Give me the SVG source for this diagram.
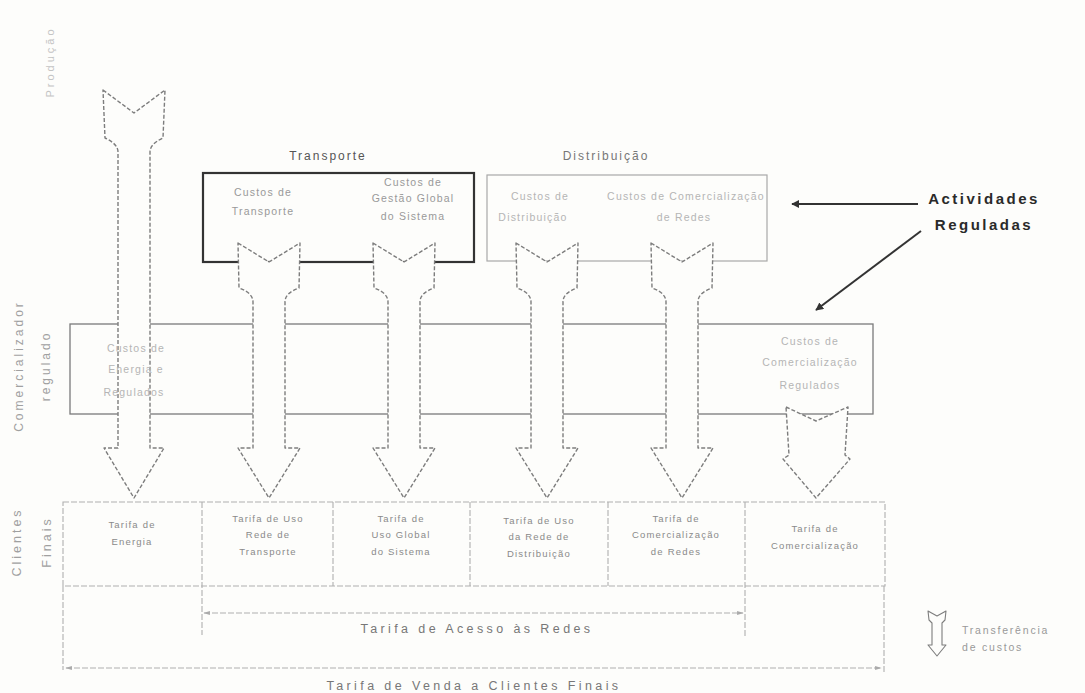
<svg xmlns="http://www.w3.org/2000/svg" width="1085" height="693" viewBox="0 0 1085 693">
<defs>
<style>
.bg{fill:#fdfdfb}
.box{fill:none;stroke:#7a7a7a;stroke-width:1.3}
.lbox{fill:none;stroke:#a8a8a8;stroke-width:1.2}
.tbox{fill:none;stroke:#333;stroke-width:2.2}
.arr{fill:#fdfdfb;stroke:#7d7d7d;stroke-width:1.4;stroke-dasharray:4 2;stroke-linejoin:round}
.tbl{fill:none;stroke:#b0b0b0;stroke-width:1.1;stroke-dasharray:6 2}
.t{font-family:"Liberation Sans",Arial,sans-serif}
.title{font-size:12px;fill:#555;letter-spacing:2px}
.cell{font-size:9.5px;fill:#8a8a8a;letter-spacing:1.2px;text-anchor:middle}
.pale{font-size:10.5px;fill:#b5b5b5;letter-spacing:1.2px;text-anchor:middle}
.mid{font-size:10.5px;fill:#999;letter-spacing:1.2px;text-anchor:middle}
.side{font-size:12px;fill:#a0a0a0;letter-spacing:3px;text-anchor:middle}
.big{font-size:12.5px;fill:#777;letter-spacing:3.4px;text-anchor:middle}
.act{font-size:15px;font-weight:bold;fill:#2a2a2a;letter-spacing:2.5px;text-anchor:middle}
.bl{stroke:#333;stroke-width:2;fill:none}
</style>
<marker id="ah" viewBox="0 0 10 10" refX="9" refY="5" markerWidth="4" markerHeight="4" orient="auto-start-reverse">
<path d="M0,0 L10,5 L0,10 Z" fill="#333"/>
</marker>
<marker id="sh" viewBox="0 0 10 10" refX="9" refY="5" markerWidth="6" markerHeight="6" orient="auto-start-reverse">
<path d="M0,2 L10,5 L0,8 Z" fill="#aaa"/>
</marker>
</defs>
<rect class="bg" x="0" y="0" width="1085" height="693"/>

<g id="label-producao"><text class="t side" transform="translate(54,62) rotate(-90)" style="fill:#c4c4c4;font-size:11px">Produção</text></g>
<g id="label-comercializador"><text class="t side" transform="translate(23,366) rotate(-90)">Comercializador</text><text class="t side" transform="translate(50,366) rotate(-90)">regulado</text></g>
<g id="label-clientes"><text class="t side" transform="translate(21,542) rotate(-90)" style="font-size:12.5px">Clientes</text><text class="t side" transform="translate(51,542) rotate(-90)" style="font-size:12.5px">Finais</text></g>

<g id="transporte">
<text class="t title" x="328" y="160" text-anchor="middle">Transporte</text>
<rect class="tbox" x="203" y="173" width="271" height="89"/>
<text class="t mid" x="263" y="196">Custos de</text>
<text class="t mid" x="263" y="215">Transporte</text>
<text class="t mid" x="413" y="186">Custos de</text>
<text class="t mid" x="413" y="202">Gestão Global</text>
<text class="t mid" x="413" y="220">do Sistema</text>
</g>

<g id="distribuicao">
<text class="t title" x="606" y="160" text-anchor="middle" style="fill:#777">Distribuição</text>
<rect class="lbox" x="487" y="175" width="280" height="86"/>
<text class="t pale" x="540" y="200">Custos de</text>
<text class="t pale" x="533" y="221">Distribuição</text>
<text class="t pale" x="686" y="200">Custos de Comercialização</text>
<text class="t pale" x="684" y="221">de Redes</text>
</g>

<g id="comercializador">
<rect class="box" x="70" y="324" width="803" height="90"/>
<text class="t pale" x="810" y="345">Custos de</text>
<text class="t pale" x="810" y="366">Comercialização</text>
<text class="t pale" x="810" y="389">Regulados</text>
</g>

<g id="actividades">
<text class="t act" x="984" y="204">Actividades</text>
<text class="t act" x="984" y="230">Reguladas</text>
</g>

<g id="connectors">
<path class="arr" id="a-energia" d="M103,90 L134,113 L165,90 L163,138 Q150,144 150,152 L150,448 L164,448 L134,498 L104,448 L118,448 L118,152 Q118,144 105,138 Z"/>
<path class="arr" id="a-transporte" d="M238,243 L269,262 L300,243 L299,288 Q285,293 285,302 L285,448 L300,448 L269,498 L238,448 L253,448 L253,302 Q253,293 239,288 Z"/>
<path class="arr" id="a-ggs" d="M373,243 L404,262 L435,243 L434,288 Q420,293 420,302 L420,448 L435,448 L404,498 L373,448 L388,448 L388,302 Q388,293 374,288 Z"/>
<path class="arr" id="a-distribuicao" d="M516,243 L547,262 L578,243 L577,288 Q563,293 563,302 L563,448 L578,448 L547,498 L516,448 L531,448 L531,302 Q531,293 517,288 Z"/>
<path class="arr" id="a-comredes" d="M651,243 L682,262 L713,243 L712,288 Q698,293 698,302 L698,448 L713,448 L682,498 L651,448 L666,448 L666,302 Q666,293 652,288 Z"/>
<path class="arr" id="a-comerc" d="M786,407 L816,421 L848,407 L845,455 L850,459 L816,498 L783,459 L789,455 Z"/>
<line class="bl" x1="918" y1="204" x2="792" y2="204" marker-end="url(#ah)"/>
<line class="bl" x1="921" y1="231" x2="816" y2="310" marker-end="url(#ah)"/>
<line class="tbl" x1="204" y1="613" x2="743" y2="613" marker-start="url(#sh)" marker-end="url(#sh)"/>
<line class="tbl" x1="66" y1="668" x2="881" y2="668" marker-start="url(#sh)" marker-end="url(#sh)"/>
</g>

<g id="custos-energia">
<text class="t pale" x="136" y="352">Custos de</text>
<text class="t pale" x="136" y="373">Energia e</text>
<text class="t pale" x="134" y="396">Regulados</text>
</g>

<g id="clientes-finais">
<rect class="tbl" x="63" y="502" width="822" height="84"/>
<line class="tbl" x1="202" y1="502" x2="202" y2="635"/>
<line class="tbl" x1="333" y1="502" x2="333" y2="586"/>
<line class="tbl" x1="470" y1="502" x2="470" y2="586"/>
<line class="tbl" x1="608" y1="502" x2="608" y2="586"/>
<line class="tbl" x1="745" y1="502" x2="745" y2="637"/>
<line class="tbl" x1="63" y1="586" x2="63" y2="670"/>
<line class="tbl" x1="884" y1="586" x2="884" y2="672"/>
</g>
<g id="cell-energia"><text class="t cell" x="132" y="528">Tarifa de</text><text class="t cell" x="132" y="545">Energia</text></g>
<g id="cell-transporte"><text class="t cell" x="268" y="522">Tarifa de Uso</text><text class="t cell" x="268" y="538">Rede de</text><text class="t cell" x="268" y="555">Transporte</text></g>
<g id="cell-ggs"><text class="t cell" x="401" y="522">Tarifa de</text><text class="t cell" x="401" y="538">Uso Global</text><text class="t cell" x="401" y="555">do Sistema</text></g>
<g id="cell-distribuicao"><text class="t cell" x="539" y="524">Tarifa de Uso</text><text class="t cell" x="539" y="540">da Rede de</text><text class="t cell" x="539" y="557">Distribuição</text></g>
<g id="cell-comredes"><text class="t cell" x="676" y="522">Tarifa de</text><text class="t cell" x="676" y="538">Comercialização</text><text class="t cell" x="676" y="555">de Redes</text></g>
<g id="cell-comerc"><text class="t cell" x="815" y="532">Tarifa de</text><text class="t cell" x="815" y="549">Comercialização</text></g>

<g id="totais">
<text class="t big" x="477" y="633">Tarifa de Acesso às Redes</text>
<text class="t big" x="474" y="690">Tarifa de Venda a Clientes Finais</text>
</g>

<g id="legenda">
<path class="arr" style="stroke-dasharray:none;stroke-width:1.1" d="M928,611 L937,616 L946,611 L945,620 L942,623 L942,645 L946,645 L937,656 L928,645 L932,645 L932,623 L929,620 Z"/>
<text class="t" x="962" y="634" style="font-size:10.5px;fill:#999;letter-spacing:1.8px">Transferência</text>
<text class="t" x="962" y="651" style="font-size:10.5px;fill:#999;letter-spacing:1.8px">de custos</text>
</g>
</svg>
